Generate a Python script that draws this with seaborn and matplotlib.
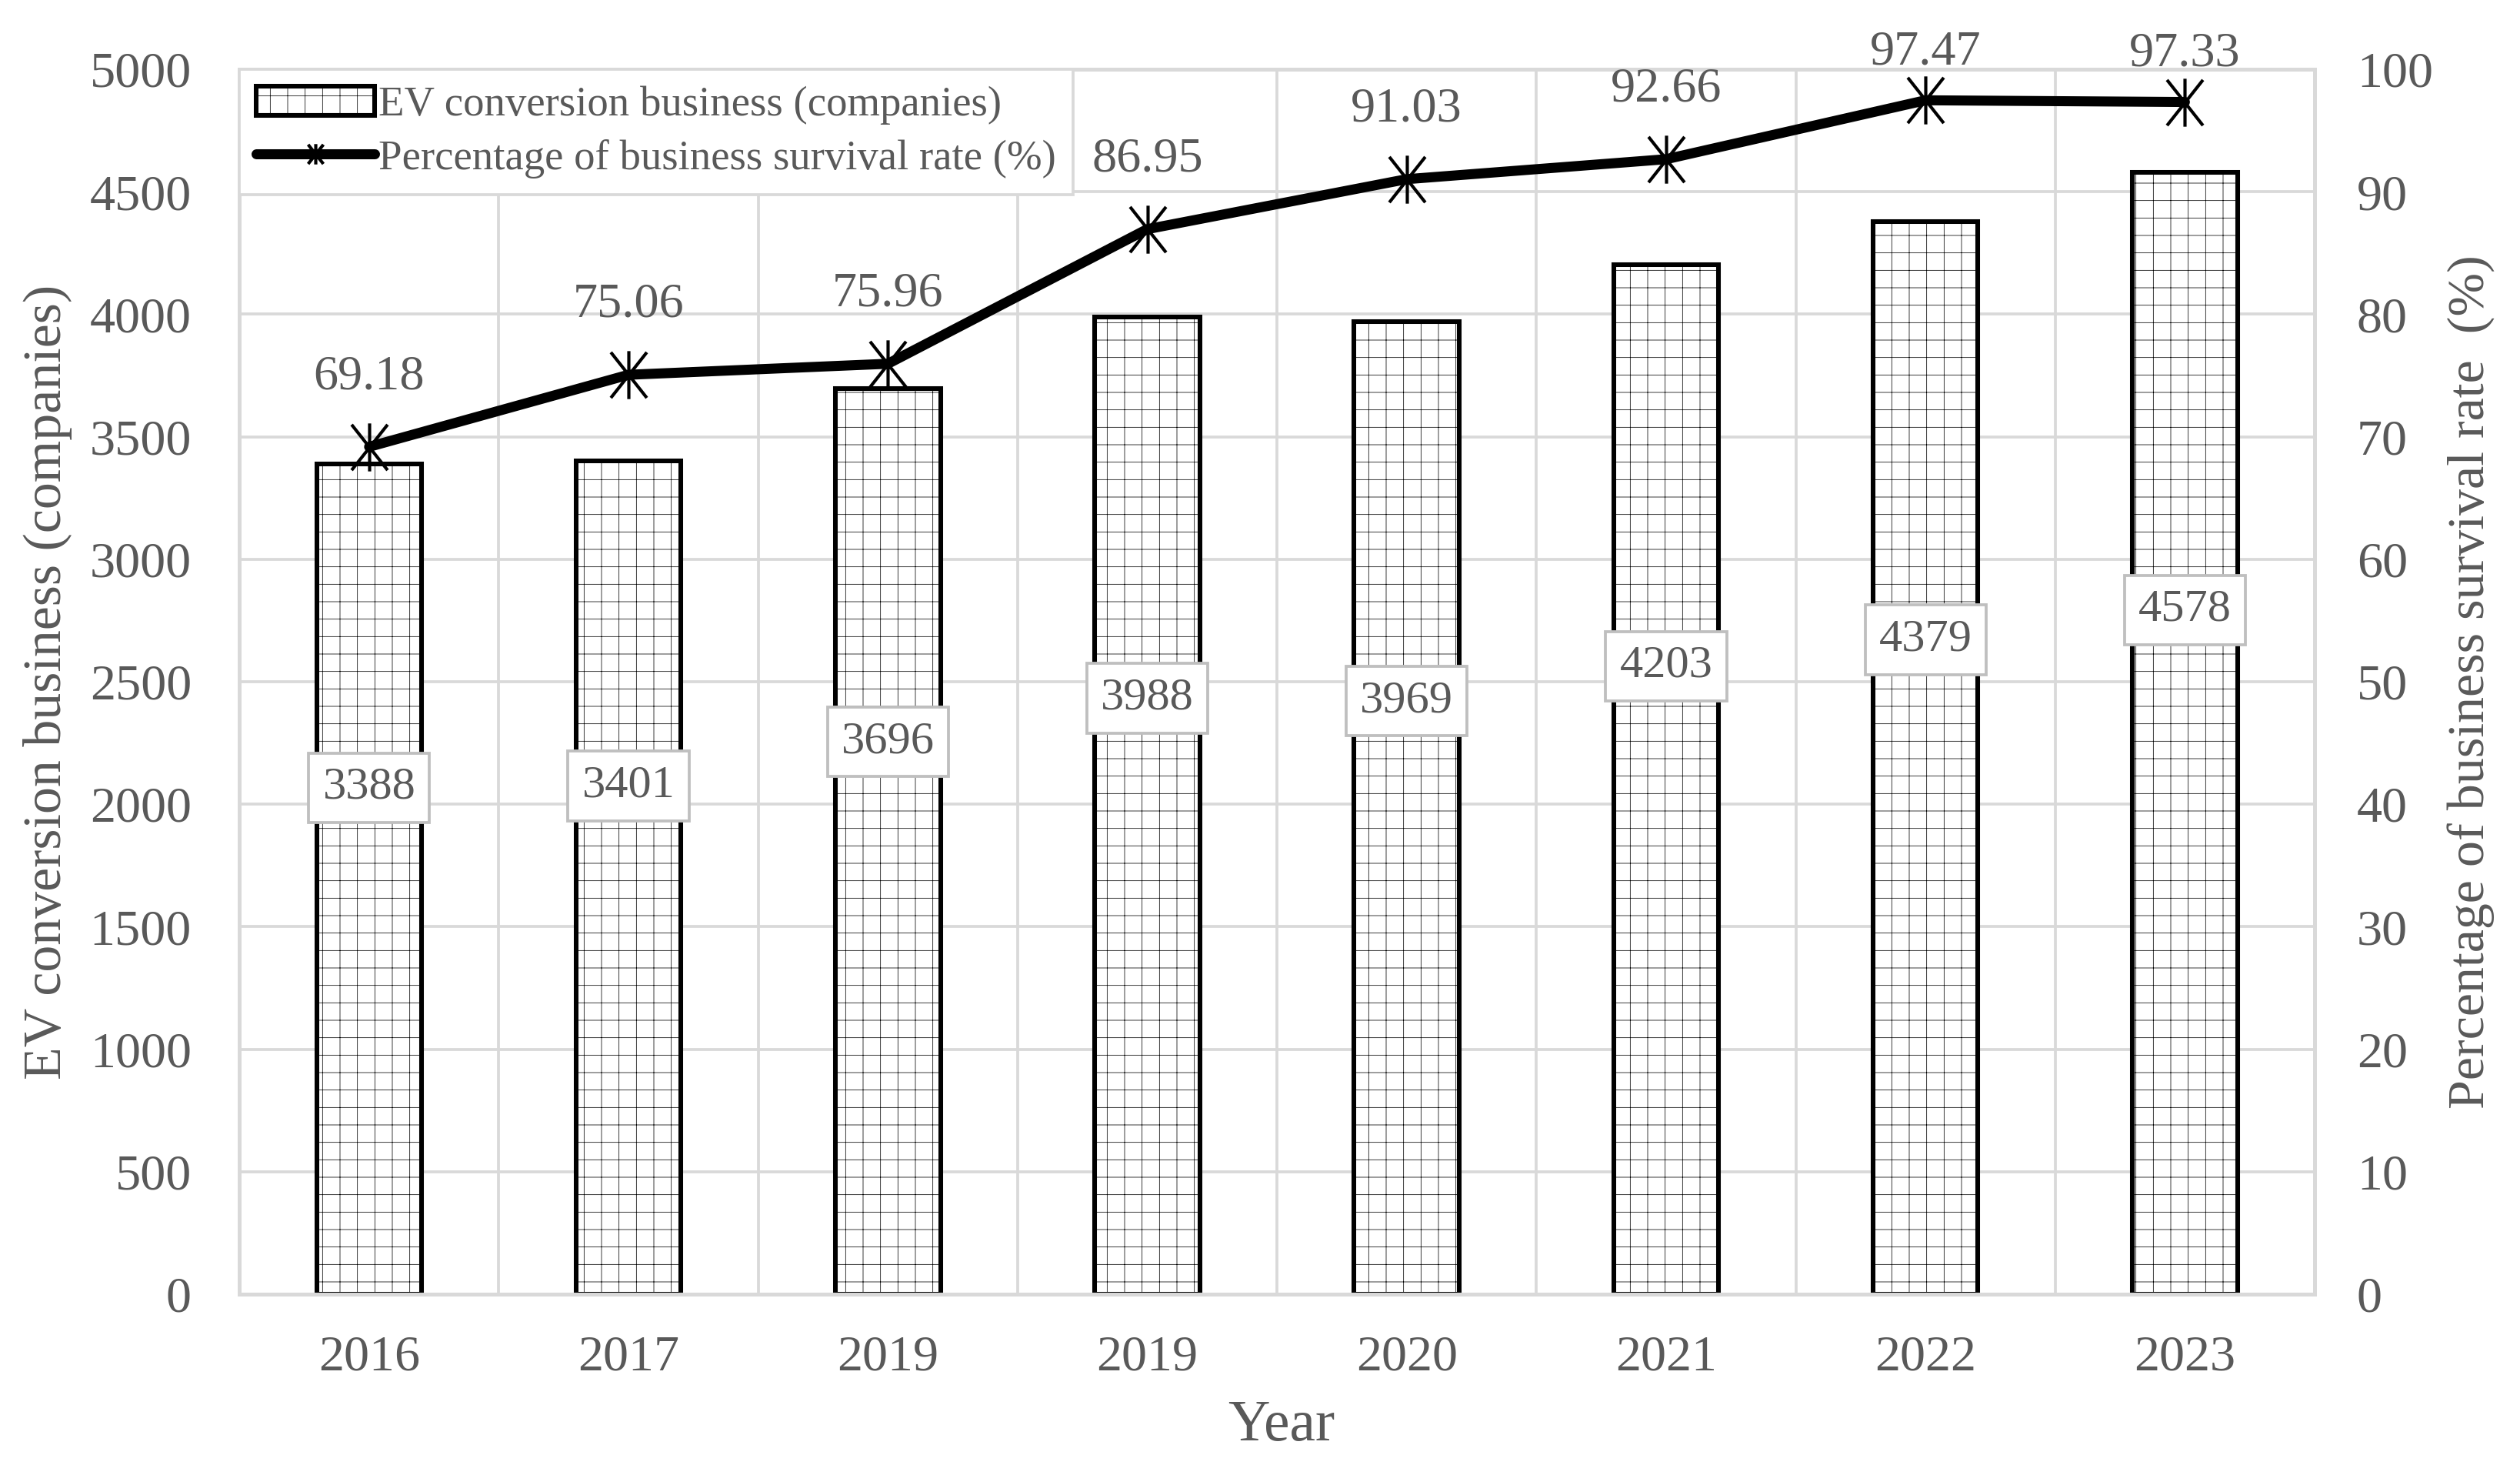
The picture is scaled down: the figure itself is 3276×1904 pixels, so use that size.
import numpy as np
import pandas as pd
import seaborn as sns
import matplotlib.pyplot as plt
from matplotlib.path import Path

years = ['2016', '2017', '2019', '2019', '2020', '2021', '2022', '2023']
companies = [3388, 3401, 3696, 3988, 3969, 4203, 4379, 4578]
survival = [69.18, 75.06, 75.96, 86.95, 91.03, 92.66, 97.47, 97.33]

df = pd.DataFrame()
df['pos'] = list(range(len(years)))
df['companies'] = companies
df['rate'] = survival

sns.set_style('white')
plt.rcParams['font.family'] = ['Liberation Serif', 'DejaVu Serif']
plt.rcParams['hatch.linewidth'] = 0.4

gray_text = '#595959'
grid_col = '#d9d9d9'

fig, ax1 = plt.subplots(figsize=(3276 / 136, 1904 / 136), dpi=136)
fig.subplots_adjust(left=0.095, right=0.9185, top=0.9527, bottom=0.1166)
ax2 = ax1.twinx()

# bars
sns.barplot(data=df, x='pos', y='companies', color='white', saturation=1,
            edgecolor='black', linewidth=3.2, width=0.405, hatch='+',
            errorbar=None, ax=ax1, label='EV conversion business (companies)', zorder=2)

# line with asterisk markers
star = Path([(0, -1), (0, 1), (-0.75, -0.95), (0.75, 0.95), (-0.75, 0.95), (0.75, -0.95)],
            [Path.MOVETO, Path.LINETO, Path.MOVETO, Path.LINETO, Path.MOVETO, Path.LINETO])
sns.lineplot(data=df, x='pos', y='rate', ax=ax2, color='black', linewidth=6.9,
             marker=star, markersize=33, markeredgewidth=2.2, markeredgecolor='black',
             label='Percentage of business survival rate (%)')

# axes setup
ax1.set_ylim(0, 5000)
ax1.set_yticks(np.arange(0, 5001, 500))
ax2.set_ylim(0, 100)
ax2.set_yticks(np.arange(0, 101, 10))
ax1.set_xlim(-0.5, len(years) - 0.5)
ax1.set_xticks(range(len(years)))
ax1.set_xticklabels(years)
ax1.set_xticks(np.arange(-0.5, len(years), 1), minor=True)

ax1.grid(axis='y', which='major', color=grid_col, linewidth=2)
ax1.grid(axis='x', which='minor', color=grid_col, linewidth=2)
ax1.set_axisbelow(True)

for ax in (ax1, ax2):
    for s in ax.spines.values():
        s.set_color(grid_col)
        s.set_linewidth(2.5)
    ax.tick_params(which='both', length=0, labelsize=35, labelcolor=gray_text)
ax1.tick_params(axis='y', pad=33)
ax2.tick_params(axis='y', pad=29)
ax1.tick_params(axis='x', pad=28)

ax1.set_xlabel('Year', fontsize=40, color=gray_text)
ax1.set_ylabel('EV conversion business (companies)', fontsize=37, color=gray_text)
ax2.set_ylabel('Percentage of business survival rate  (%)', fontsize=36, color=gray_text)
ax1.xaxis.set_label_coords(0.502, -0.086)
ax1.yaxis.set_label_coords(-0.0805, 0.5)
ax2.yaxis.set_label_coords(1.064, 0.5)

# labels in boxes on bars
for i, v in enumerate(companies):
    ax1.text(i, v * 0.61, str(v), ha='center', va='center', fontsize=32, color=gray_text,
             bbox=dict(boxstyle='square,pad=0.3', fc='white', ec='#bfbfbf', lw=2), zorder=3)

# labels above line points
for i, v in enumerate(survival):
    off = 48 if v < 95 else 33
    ax2.annotate(f'{v:.2f}', (i, v), xytext=(0, off), textcoords='offset points',
                 ha='center', va='center', fontsize=34, color=gray_text)

# legend
if ax1.get_legend() is not None:
    ax1.get_legend().remove()
h1, l1 = ax1.get_legend_handles_labels()
h2, l2 = ax2.get_legend_handles_labels()
leg = ax2.legend(h1 + h2, l1 + l2, loc='upper left', bbox_to_anchor=(0, 1),
                 borderaxespad=0, fontsize=29, labelcolor=gray_text, fancybox=False,
                 framealpha=1, edgecolor=grid_col, handlelength=2.8, handletextpad=0.1,
                 labelspacing=0.33, borderpad=0.4)
leg.get_frame().set_linewidth(2)
leg.legend_handles[1].set_markersize(14)

plt.savefig('out.png', dpi=136)
